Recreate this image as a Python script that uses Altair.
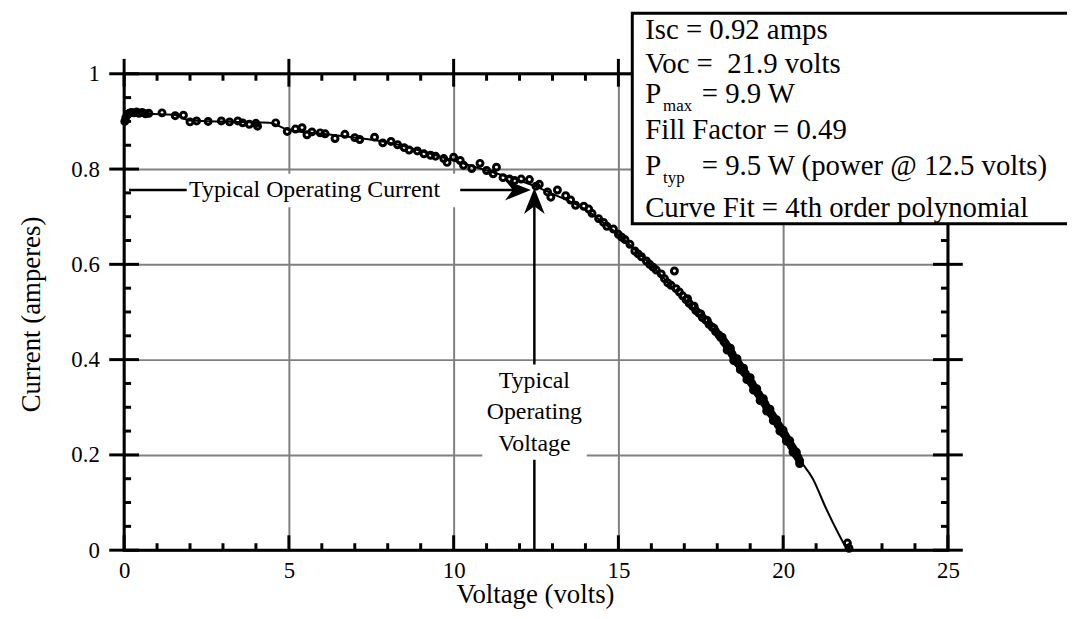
import altair as alt
import pandas as pd

# ---------------- data ----------------
voltage = [
    0.02, 0.05, 0.10, 0.15, 0.22, 0.30, 0.38, 0.45, 0.55, 0.65, 0.75, 1.15, 1.55, 1.80,
    2.00, 2.20, 2.55, 2.95, 3.20, 3.45, 3.60, 3.80, 4.00, 4.05, 4.60,
    4.95, 5.20, 5.40, 5.55, 5.70, 5.95, 6.10, 6.40, 6.70, 7.00, 7.15, 7.60, 7.85, 8.10,
    8.30, 8.50, 8.65, 8.90, 9.10, 9.30, 9.45, 9.70, 9.80, 10.00, 10.20, 10.30, 10.55,
    10.80, 11.00, 11.20, 11.30, 11.50, 11.70, 11.85, 12.05, 12.30, 12.50, 12.60, 12.85,
    12.95, 13.15, 13.40, 13.55, 13.70, 13.95, 14.10, 14.20, 14.40, 14.55, 14.65, 14.85,
    15.00, 15.10, 15.20, 15.35, 15.50, 15.60, 15.70, 15.85, 15.95, 16.05, 16.15, 16.30,
    16.40, 16.50, 16.60, 16.70, 16.75, 16.85, 16.95, 17.05, 17.15, 17.25, 17.35, 17.45,
    17.55, 17.65, 17.75, 17.85, 17.95, 18.05, 18.10, 18.20, 18.25, 18.30, 18.35, 18.40,
    18.45, 18.50, 18.55, 18.60, 18.65, 18.70, 18.75, 18.80, 18.85, 18.90, 18.95, 19.00,
    19.05, 19.10, 19.15, 19.20, 19.25, 19.30, 19.35, 19.40, 19.45, 19.50, 19.55, 19.60,
    19.65, 19.70, 19.75, 19.80, 19.85, 19.90, 19.95, 20.00, 20.05, 20.10, 20.15, 20.20,
    20.25, 20.30, 20.35, 20.40, 20.45, 20.50, 21.95, 22.00,
    17.10, 17.30, 17.50, 17.70, 17.90, 18.15, 18.40, 18.60, 18.80, 19.00, 19.20, 19.40,
    19.60, 19.80, 20.00, 20.20, 20.40, 18.30, 18.50, 18.70, 18.90, 19.10, 19.30, 19.50,
    19.70, 19.90, 20.10, 20.30, 20.50,
]
current = [
    0.900, 0.908, 0.914, 0.917, 0.919, 0.918, 0.920, 0.917, 0.919, 0.916, 0.917, 0.918, 0.912, 0.913,
    0.899, 0.901, 0.900, 0.901, 0.899, 0.901, 0.897, 0.894, 0.896, 0.890, 0.897,
    0.879, 0.884, 0.887, 0.872, 0.878, 0.876, 0.874, 0.864, 0.873, 0.866, 0.862, 0.867, 0.855, 0.858,
    0.851, 0.845, 0.840, 0.838, 0.832, 0.829, 0.827, 0.822, 0.814, 0.825, 0.818, 0.808, 0.801,
    0.812, 0.797, 0.790, 0.804, 0.782, 0.779, 0.776, 0.779, 0.778, 0.764, 0.768, 0.752,
    0.741, 0.756, 0.744, 0.735, 0.724, 0.722, 0.716, 0.707, 0.696, 0.688, 0.680, 0.674,
    0.663, 0.657, 0.652, 0.642, 0.628, 0.622, 0.616, 0.607, 0.600, 0.594, 0.588, 0.580,
    0.570, 0.561, 0.556, 0.586, 0.549, 0.542, 0.534, 0.526, 0.518, 0.512, 0.503, 0.497,
    0.488, 0.483, 0.474, 0.468, 0.459, 0.452, 0.447, 0.438, 0.434, 0.428, 0.425, 0.418,
    0.412, 0.405, 0.401, 0.395, 0.391, 0.386, 0.380, 0.375, 0.371, 0.365, 0.360, 0.355,
    0.350, 0.344, 0.339, 0.333, 0.328, 0.322, 0.318, 0.312, 0.307, 0.300, 0.296, 0.290,
    0.285, 0.280, 0.274, 0.269, 0.263, 0.258, 0.252, 0.246, 0.242, 0.236, 0.230, 0.225,
    0.219, 0.213, 0.207, 0.200, 0.195, 0.188, 0.015, 0.004,
    0.528, 0.512, 0.496, 0.482, 0.466, 0.447, 0.424, 0.402, 0.382, 0.362, 0.339, 0.318,
    0.296, 0.274, 0.252, 0.230, 0.206, 0.420, 0.398, 0.379, 0.358, 0.336, 0.314, 0.292,
    0.272, 0.250, 0.229, 0.206, 0.182,
]

fit_voltage = [0.0, 0.3, 1.5, 2.0, 4.4, 5.0, 6.0, 7.0, 8.0, 9.0, 10.0, 11.0, 12.0, 12.5,
               13.0, 14.0, 15.0, 16.0, 17.0, 18.0, 18.5, 19.0, 19.5, 20.0, 20.5, 20.9,
               21.3, 21.7, 21.95]
fit_current = [0.903, 0.916, 0.914, 0.902, 0.897, 0.882, 0.874, 0.866, 0.856, 0.838, 0.818,
               0.797, 0.776, 0.763, 0.748, 0.715, 0.662, 0.598, 0.525, 0.452, 0.405, 0.355,
               0.300, 0.247, 0.190, 0.150, 0.088, 0.032, 0.0]

x_major = [0, 5, 10, 15, 20, 25]
x_minor = [1, 2, 3, 4, 6, 7, 8, 9, 11, 12, 13, 14, 16, 17, 18, 19, 21, 22, 23, 24]
y_major = [0, 0.2, 0.4, 0.6, 0.8, 1.0]
y_minor = [0.05, 0.1, 0.15, 0.25, 0.3, 0.35, 0.45, 0.5, 0.55, 0.65, 0.7, 0.75, 0.85, 0.9, 0.95]

info_lines = ["Isc = 0.92 amps", "Voc = \u00a021.9 volts", "P", "= 9.9 W",
              "Fill Factor = 0.49", "P", "= 9.5 W (power @ 12.5 volts)",
              "Curve Fit = 4th order polynomial"]

# ---------------- layout / style ----------------
W, H = 830, 480
FONT = "Liberation Serif"
xs = alt.Scale(domain=[0, 25], nice=False, zero=False)
ys = alt.Scale(domain=[0, 1], nice=False, zero=False)
one = pd.DataFrame({"k": [0]})

fit_df = pd.DataFrame({"V": fit_voltage, "I": fit_current})
pts_df = pd.DataFrame({"V": voltage, "I": current})

x_axis = alt.Axis(values=x_major, format="d", grid=True, gridColor="#808080", gridWidth=2,
                  domain=False, ticks=False, labelFont=FONT, labelFontSize=23,
                  labelColor="black", labelPadding=10, labelFlush=False,
                  title="Voltage (volts)", titleFont=FONT, titleFontSize=27,
                  titleFontWeight="normal", titleColor="black", titleX=414, titleY=45,
                  titleAlign="center", titleBaseline="middle")
y_axis = alt.Axis(values=y_major, format="~g", grid=True, gridColor="#808080", gridWidth=2,
                  domain=False, ticks=False, labelFont=FONT, labelFontSize=23,
                  labelColor="black", labelPadding=25, labelFlush=False,
                  title="Current (amperes)", titleFont=FONT, titleFontSize=27,
                  titleFontWeight="normal", titleColor="black", titleX=-93, titleY=242,
                  titleAngle=270, titleAlign="center", titleBaseline="middle")


def X(field):
    return alt.X(field, scale=xs, axis=x_axis)


def Y(field):
    return alt.Y(field, scale=ys, axis=y_axis)


fit_line = alt.Chart(fit_df).mark_line(color="black", strokeWidth=2, interpolate="monotone").encode(
    x=X("V:Q"), y=Y("I:Q"))
points = alt.Chart(pts_df).mark_point(shape="circle", filled=False, color="black",
                                      strokeWidth=3, size=36, opacity=1).encode(
    x=X("V:Q"), y=Y("I:Q"))

frame = alt.Chart(one).mark_rect(fill="white", fillOpacity=0, stroke="black", strokeWidth=3).encode(
    x=alt.value(0), x2=alt.value(W), y=alt.value(0), y2=alt.value(H))


def xticks(vals, y1, y2):
    return alt.Chart(pd.DataFrame({"V": vals})).mark_rule(color="black", strokeWidth=3).encode(
        x=X("V:Q"), y=alt.value(y1), y2=alt.value(y2))


def yticks(vals, x1, x2):
    return alt.Chart(pd.DataFrame({"I": vals})).mark_rule(color="black", strokeWidth=3).encode(
        y=Y("I:Q"), x=alt.value(x1), x2=alt.value(x2))


ticks = [
    xticks(x_major, H, H - 15), xticks(x_minor, H, H - 7),
    xticks(x_major, -15, 13), xticks(x_minor, 0, 7),
    yticks(y_major, -15, 15), yticks(y_minor, 0, 7),
    yticks(y_major, W - 15, W + 15), yticks(y_minor, W - 7, W),
]


def drule(x1, x2, y1, y2):
    d = pd.DataFrame({"V": [x1], "V2": [x2], "I": [y1], "I2": [y2]})
    return alt.Chart(d).mark_rule(color="black", strokeWidth=2.5).encode(
        x=X("V:Q"), x2="V2:Q", y=Y("I:Q"), y2="I2:Q")


def drect(x1, x2, y1, y2):
    d = pd.DataFrame({"V": [x1], "V2": [x2], "I": [y1], "I2": [y2]})
    return alt.Chart(d).mark_rect(color="white").encode(
        x=X("V:Q"), x2="V2:Q", y=Y("I:Q"), y2="I2:Q")


def dtext(txt, x, y, size=24):
    d = pd.DataFrame({"V": [x], "I": [y]})
    return alt.Chart(d).mark_text(text=txt, font=FONT, fontSize=size, color="black",
                                  align="center", baseline="middle").encode(
        x=X("V:Q"), y=Y("I:Q"))


ARROW = "M0,-1L-0.8,1L0,0.4L0.8,1Z"


def arrowhead(x, y, angle):
    d = pd.DataFrame({"V": [x], "I": [y]})
    return alt.Chart(d).mark_point(shape=ARROW, filled=True, color="black", size=680,
                                   angle=angle, opacity=1, strokeWidth=0).encode(
        x=X("V:Q"), y=Y("I:Q"))


annotations = [
    drule(0.15, 11.9, 0.756, 0.756),
    drule(12.45, 12.45, 0.0, 0.735),
    drect(1.9, 10.2, 0.72, 0.79),
    drect(10.87, 14.04, 0.19, 0.39),
    dtext("Typical Operating Current", 5.78, 0.756),
    dtext("Typical", 12.45, 0.354),
    dtext("Operating", 12.45, 0.29),
    dtext("Voltage", 12.45, 0.223),
    arrowhead(11.95, 0.756, 90),
    arrowhead(12.45, 0.733, 0),
]

info_box = alt.Chart(one).mark_rect(fill="white", stroke="black", strokeWidth=3).encode(
    x=alt.value(512), x2=alt.value(1000), y=alt.value(-61), y2=alt.value(151))


def ptext(txt, x, y, size=29):
    return alt.Chart(one).mark_text(text=txt, font=FONT, fontSize=size, color="black",
                                    align="left", baseline="middle").encode(
        x=alt.value(x), y=alt.value(y))


info = [
    info_box,
    ptext(info_lines[0], 525, -44),
    ptext(info_lines[1], 525, -10),
    ptext(info_lines[2], 525, 20),
    ptext("max", 543, 32, 17),
    ptext(info_lines[3], 582, 20),
    ptext(info_lines[4], 525, 57),
    ptext(info_lines[5], 525, 93),
    ptext("typ", 543, 105, 17),
    ptext(info_lines[6], 582, 93),
    ptext(info_lines[7], 525, 135),
]

chart = alt.layer(fit_line, points, frame, *ticks, *annotations, *info).properties(
    width=W, height=H,
    autosize=alt.AutoSizeParams(type="none"),
    padding={"left": 117, "top": 64, "right": 120, "bottom": 59},
).configure_view(stroke=None)

chart.save("out.html", embed_options={"renderer": "svg", "actions": False})
